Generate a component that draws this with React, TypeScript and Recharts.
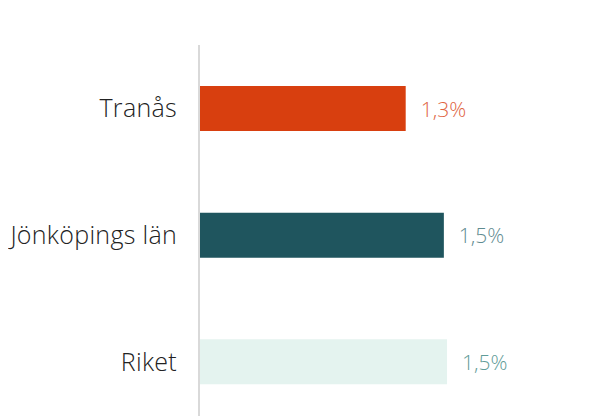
import React from "react";
import { BarChart, Bar, XAxis, YAxis, Cell, LabelList } from "recharts";

const categories = ["Tranås", "Jönköpings län", "Riket"];
const values = [1.3, 1.54, 1.56];
const valueLabels = ["1,3%", "1,5%", "1,5%"];
const barColors = ["#d83f0f", "#1f555e", "#e4f3ef"];
const labelColors = ["#e0643f", "#5f8b90", "#5f9c98"];

const data = categories.map((c, i) => ({ name: c, value: values[i], label: valueLabels[i], idx: i }));

const FONT = "'Open Sans', Roboto, sans-serif";

const ValueLabel = (props: any) => {
  const { x, y, width, height, index } = props;
  return (
    <text
      x={x + width + 15}
      y={y + height / 2}
      dominantBaseline="central"
      fill={labelColors[index]}
      fontSize={21}
      fontWeight={300}
      fontFamily={FONT}
    >
      {valueLabels[index]}
    </text>
  );
};

export default function App() {
  return (
    <div style={{ marginLeft: -8, marginTop: -8, width: 597, height: 416, overflow: "hidden" }}>
      <BarChart
        layout="vertical"
        width={597}
        height={430}
        data={data}
        margin={{ top: 45, right: 80, bottom: 5, left: 0 }}
      >
        <XAxis type="number" hide domain={[0, 2]} />
        <YAxis
          type="category"
          dataKey="name"
          width={199}
          tickLine={false}
          tickMargin={16}
          axisLine={{ stroke: "#d9d9d9", strokeWidth: 2 }}
          tick={{ fontSize: 25, fill: "#222222", fontFamily: FONT, fontWeight: 300, letterSpacing: 0.3 }}
        />
        <Bar dataKey="value" barSize={45} isAnimationActive={false}>
          {data.map((d, i) => (
            <Cell key={i} fill={barColors[i]} />
          ))}
          <LabelList dataKey="label" content={<ValueLabel />} />
        </Bar>
      </BarChart>
    </div>
  );
}
